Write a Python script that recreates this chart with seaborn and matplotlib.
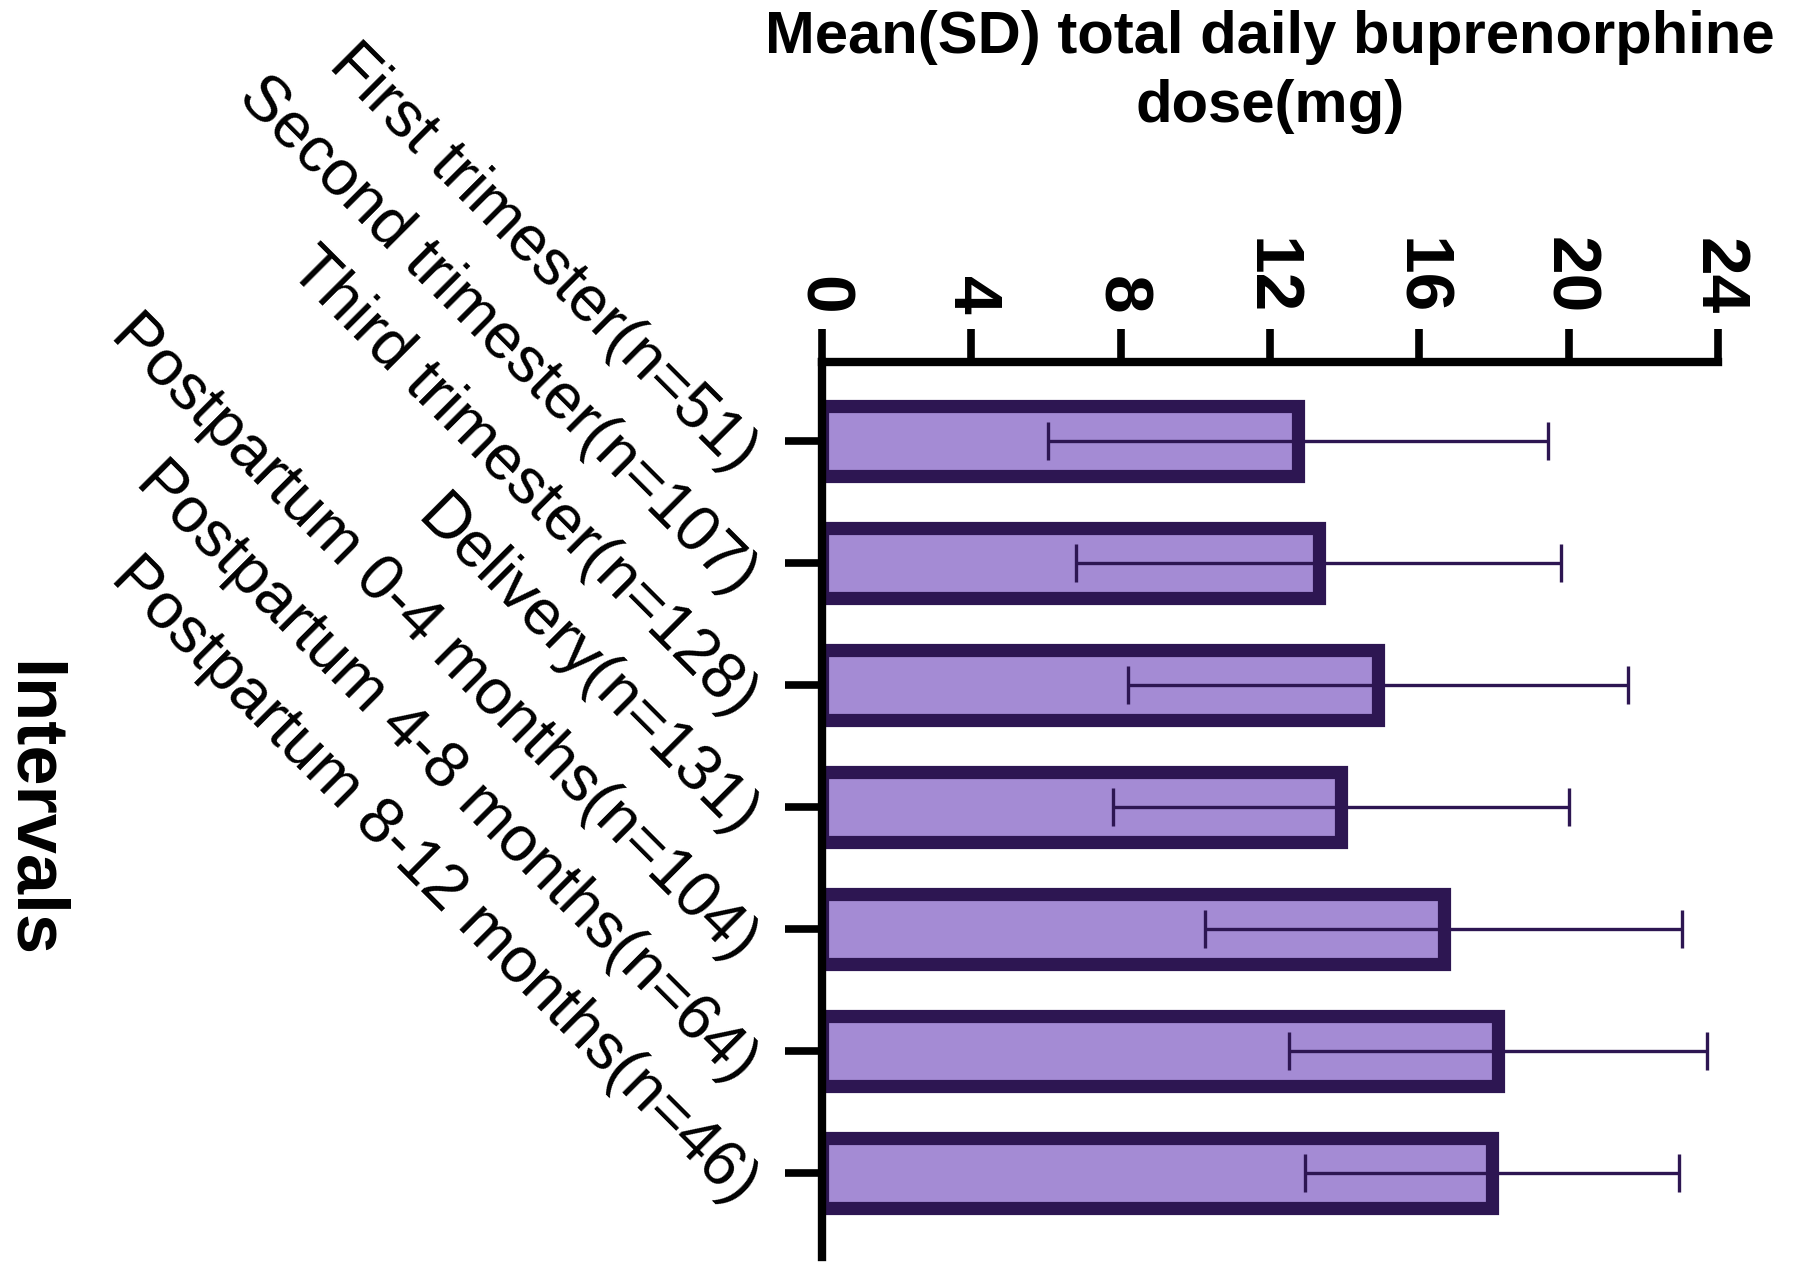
import numpy as np
import pandas as pd
import matplotlib
matplotlib.use('Agg')
import matplotlib.pyplot as plt
import seaborn as sns

# values
intervals = ['First trimester(n=51)', 'Second trimester(n=107)', 'Third trimester(n=128)',
             'Delivery(n=131)', 'Postpartum 0-4 months(n=104)',
             'Postpartum 4-8 months(n=64)', 'Postpartum 8-12 months(n=46)']
mean_dose = [12.75, 13.3, 14.9, 13.9, 16.65, 18.1, 17.95]
sd_dose = [6.7, 6.5, 6.7, 6.1, 6.4, 5.6, 5.0]
x_ticks = [0, 4, 8, 12, 16, 20, 24]

fill_col = '#a48bd4'
edge_col = '#2d1652'

sns.set_style('ticks')
plt.rcParams['font.family'] = ['Liberation Sans', 'DejaVu Sans']
plt.rcParams['text.color'] = 'black'
plt.rcParams['axes.labelcolor'] = 'black'
plt.rcParams['xtick.color'] = 'black'
plt.rcParams['ytick.color'] = 'black'

df = pd.DataFrame({'interval': intervals, 'mean': mean_dose, 'sd': sd_dose})

fig = plt.figure(figsize=(18, 12.63), dpi=100)
ax = fig.add_axes([0.4567, 0.0048, 0.4977, 0.7086])

sns.barplot(data=df, x='mean', y='interval', orient='h', color=fill_col, saturation=1,
            width=0.57, edgecolor=edge_col, linewidth=9.5, errorbar=None, ax=ax, zorder=2)
ax.errorbar(df['mean'], np.arange(len(df)), xerr=df['sd'], fmt='none', ecolor=edge_col,
            elinewidth=2.4, capsize=14, capthick=2.4, zorder=3)

ax.set_xlim(0, 24)
ax.set_ylim(6.69, -0.65)
ax.set_xticks(x_ticks)
ax.xaxis.tick_top()
ax.xaxis.set_label_position('top')

for side in ['right', 'bottom']:
    ax.spines[side].set_visible(False)
for side in ['top', 'left']:
    ax.spines[side].set_linewidth(6)
    ax.spines[side].set_color('black')
    ax.spines[side].set_zorder(4)

ax.tick_params(axis='x', which='major', length=24, width=5.5, color='black', pad=10,
               labelsize=50, labelcolor='black', top=True, bottom=False)
ax.tick_params(axis='y', which='major', length=27, width=5.5, color='black', pad=12,
               labelsize=46, labelcolor='black', left=True)
for lab in ax.get_xticklabels():
    lab.set_rotation(-90)
    lab.set_fontweight('bold')
    lab.set_ha('center')
    lab.set_va('bottom')
for lab in ax.get_yticklabels():
    lab.set_rotation(-45)
    lab.set_rotation_mode('anchor')
    lab.set_ha('right')
    lab.set_va('top')

ax.set_xlabel('Mean(SD) total daily buprenorphine\ndose(mg)', fontsize=43,
              fontweight='bold', labelpad=83, linespacing=1.33, color='black')
ax.set_ylabel('Intervals', rotation=-90, fontsize=52, fontweight='bold', va='center',
              color='black')
ax.yaxis.set_label_coords(-0.882, 0.5)

fig.savefig('out.png', dpi=100, facecolor='white')
